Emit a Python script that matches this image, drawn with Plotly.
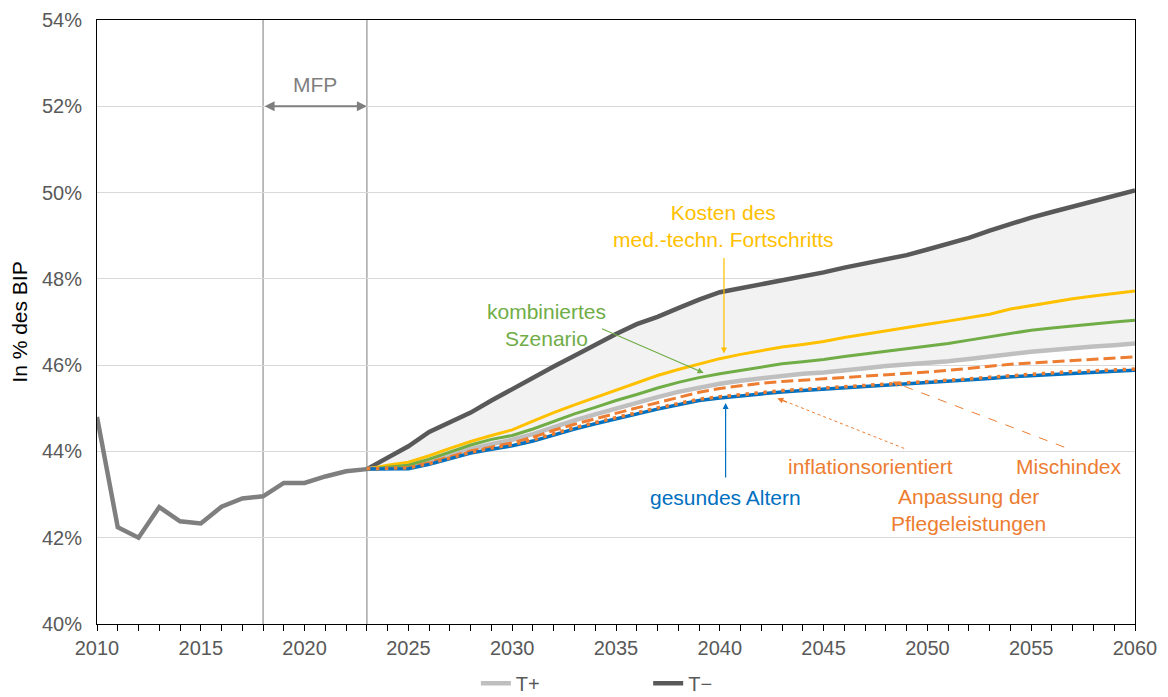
import plotly.graph_objects as go

# ---------------- data ----------------
years_hist = list(range(2010, 2024))
hist = [44.80, 42.24, 42.00, 42.71, 42.38, 42.33, 42.72, 42.91, 42.96, 43.27,
        43.27, 43.42, 43.54, 43.59]

years_proj = list(range(2023, 2061))
t_minus = [43.59, 43.87, 44.12, 44.45, 44.67, 44.90, 45.18, 45.45, 45.72, 45.97,
           46.22, 46.48, 46.72, 46.95, 47.12, 47.32, 47.52, 47.69, 47.78, 47.87,
           47.96, 48.05, 48.15, 48.26, 48.36, 48.47, 48.55, 48.68, 48.82, 48.95,
           49.12, 49.28, 49.42, 49.55, 49.67, 49.80, 49.93, 50.05]
t_plus = [43.59, 43.62, 43.65, 43.78, 43.92, 44.06, 44.17, 44.27, 44.40, 44.57,
          44.72, 44.86, 45.00, 45.13, 45.26, 45.38, 45.48, 45.57, 45.64, 45.70,
          45.76, 45.80, 45.83, 45.87, 45.93, 45.98, 46.01, 46.04, 46.09, 46.14,
          46.20, 46.25, 46.31, 46.35, 46.40, 46.43, 46.46, 46.50]
kosten = [43.59, 43.68, 43.75, 43.90, 44.07, 44.23, 44.37, 44.50, 44.70, 44.90,
          45.08, 45.25, 45.43, 45.60, 45.76, 45.90, 46.03, 46.15, 46.25, 46.34,
          46.42, 46.48, 46.55, 46.64, 46.72, 46.80, 46.88, 46.95, 47.02, 47.10,
          47.18, 47.30, 47.38, 47.46, 47.54, 47.60, 47.66, 47.72]
kombiniert = [43.59, 43.64, 43.68, 43.82, 43.99, 44.15, 44.28, 44.37, 44.52, 44.70,
              44.87, 45.02, 45.18, 45.32, 45.47, 45.60, 45.71, 45.80, 45.88, 45.96,
              46.03, 46.08, 46.13, 46.20, 46.26, 46.32, 46.38, 46.44, 46.50, 46.58,
              46.66, 46.74, 46.81, 46.86, 46.91, 46.96, 47.00, 47.04]
mischindex = [43.59, 43.60, 43.62, 43.74, 43.88, 44.01, 44.10, 44.20, 44.33, 44.49,
              44.63, 44.76, 44.89, 45.01, 45.13, 45.25, 45.37, 45.46, 45.52, 45.58,
              45.62, 45.65, 45.68, 45.71, 45.74, 45.77, 45.81, 45.84, 45.88, 45.93,
              45.98, 46.02, 46.05, 46.08, 46.11, 46.14, 46.16, 46.19]
gesund = [43.59, 43.59, 43.60, 43.70, 43.83, 43.96, 44.05, 44.13, 44.24, 44.39,
          44.52, 44.64, 44.76, 44.88, 44.98, 45.08, 45.18, 45.24, 45.29, 45.34,
          45.38, 45.41, 45.44, 45.46, 45.49, 45.52, 45.55, 45.58, 45.61, 45.65,
          45.69, 45.73, 45.76, 45.79, 45.82, 45.84, 45.86, 45.88]
inflation = [43.60, 43.61, 43.62, 43.72, 43.85, 43.98, 44.08, 44.16, 44.27, 44.42,
             44.55, 44.67, 44.79, 44.91, 45.01, 45.11, 45.21, 45.27, 45.32, 45.37,
             45.41, 45.44, 45.47, 45.49, 45.52, 45.55, 45.58, 45.61, 45.64, 45.68,
             45.72, 45.76, 45.79, 45.82, 45.85, 45.87, 45.89, 45.91]

y_ticks = [40, 42, 44, 46, 48, 50, 52, 54]
y_ticklabels = ["40%", "42%", "44%", "46%", "48%", "50%", "52%", "54%"]
x_ticks = [2010, 2015, 2020, 2025, 2030, 2035, 2040, 2045, 2050, 2055, 2060]

FONT = "Liberation Sans, Arial, sans-serif"
YELLOW = "#ffc000"
GREEN = "#70ad47"
ORANGE = "#ed7d31"
BLUE = "#0070c0"

fig = go.Figure()

# shaded band between T+ and T-
fig.add_trace(go.Scatter(x=years_proj, y=t_plus, mode="lines", line=dict(width=0),
                         showlegend=False, hoverinfo="skip"))
fig.add_trace(go.Scatter(x=years_proj, y=t_minus, mode="lines", line=dict(width=0),
                         fill="tonexty", fillcolor="#f2f2f2",
                         showlegend=False, hoverinfo="skip"))

fig.add_trace(go.Scatter(x=years_hist, y=hist, mode="lines",
                         line=dict(color="#7f7f7f", width=4.5), showlegend=False))
fig.add_trace(go.Scatter(x=years_proj, y=t_minus, mode="lines", name="T\u2212",
                         line=dict(color="#595959", width=4.5), legend="legend2"))
fig.add_trace(go.Scatter(x=years_proj, y=t_plus, mode="lines", name="T+",
                         line=dict(color="#bfbfbf", width=4.5), legend="legend"))
fig.add_trace(go.Scatter(x=years_proj, y=kosten, mode="lines",
                         line=dict(color=YELLOW, width=3), showlegend=False))
fig.add_trace(go.Scatter(x=years_proj, y=kombiniert, mode="lines",
                         line=dict(color=GREEN, width=3), showlegend=False))
fig.add_trace(go.Scatter(x=years_proj, y=mischindex, mode="lines",
                         line=dict(color=ORANGE, width=3, dash="12px,5px"),
                         showlegend=False))
fig.add_trace(go.Scatter(x=years_proj, y=gesund, mode="lines",
                         line=dict(color=BLUE, width=3.5), showlegend=False))
fig.add_trace(go.Scatter(x=years_proj, y=inflation, mode="lines",
                         line=dict(color=ORANGE, width=3.5, dash="3.5px,5.5px"),
                         showlegend=False))

shapes = []
for xv in (2018, 2023):
    shapes.append(dict(type="line", xref="x", yref="paper", x0=xv, x1=xv, y0=0, y1=1,
                       line=dict(color="#a6a6a6", width=1.5), layer="below"))
# dashed / dotted leader lines (orange)
shapes.append(dict(type="line", xref="x", yref="y", x0=2048.88, y0=44.07,
                   x1=2042.95, y1=45.20, line=dict(color=ORANGE, width=1, dash="dot")))
shapes.append(dict(type="line", xref="x", yref="y", x0=2056.59, y0=44.10,
                   x1=2048.5, y1=45.58, line=dict(color=ORANGE, width=1, dash="dash")))

annotations = []


def arrow(x0, y0, x1, y1, color, width=1.2, size=1.0):
    annotations.append(dict(x=x1, y=y1, ax=x0, ay=y0, xref="x", yref="y",
                            axref="x", ayref="y", text="", showarrow=True,
                            arrowhead=2, arrowsize=size, arrowwidth=width,
                            arrowcolor=color))


def label(x, y, text, color):
    annotations.append(dict(x=x, y=y, xref="x", yref="y", text=text, showarrow=False,
                            font=dict(family=FONT, size=21, color=color),
                            align="center", xanchor="center", yanchor="middle"))


# MFP double arrow
annotations.append(dict(x=2023, y=52, ax=2018, ay=52, xref="x", yref="y",
                        axref="x", ayref="y", text="", showarrow=True,
                        arrowhead=2, startarrowhead=2, arrowside="end+start",
                        arrowsize=1, arrowwidth=2, arrowcolor="#7f7f7f"))
label(2020.5, 52.5, "MFP", "#7f7f7f")

arrow(2040.2, 48.52, 2040.2, 46.27, YELLOW, 1.2)
label(2040.2, 49.22, "Kosten des<br>med.-techn. Fortschritts", YELLOW)

arrow(2034.25, 46.86, 2039.22, 45.82, GREEN, 1.2)
label(2031.65, 46.93, "kombiniertes<br>Szenario", GREEN)

arrow(2040.28, 43.36, 2040.28, 45.12, BLUE, 1.2)
label(2040.28, 42.94, "gesundes Altern", BLUE)

# orange arrowheads only (lines drawn as shapes)
arrow(2043.3, 45.13, 2042.77, 45.23, ORANGE, 1.2)
arrow(2048.85, 45.50, 2048.32, 45.62, ORANGE, 1.2)
label(2047.27, 43.64, "inflationsorientiert", ORANGE)
label(2056.82, 43.64, "Mischindex", ORANGE)
label(2052.0, 42.64, "Anpassung der<br>Pflegeleistungen", ORANGE)

# page body adds an 8 px offset, so the figure is 8 px smaller than the window
fig.update_layout(
    width=1160, height=689,
    margin=dict(l=89, r=33, t=12, b=73, autoexpand=False),
    paper_bgcolor="white", plot_bgcolor="white",
    font=dict(family=FONT, size=20, color="#595959"),
    shapes=shapes, annotations=annotations,
    showlegend=True,
    legend=dict(orientation="h", x=0.365, y=-0.098, xanchor="left", yanchor="middle",
                font=dict(family=FONT, size=20, color="#595959"),
                bgcolor="rgba(0,0,0,0)"),
    legend2=dict(orientation="h", x=0.531, y=-0.098, xanchor="left", yanchor="middle",
                 font=dict(family=FONT, size=20, color="#595959"),
                 bgcolor="rgba(0,0,0,0)"),
)

fig.update_xaxes(range=[2010, 2060], tickvals=x_ticks, showgrid=False,
                 showline=True, linecolor="#000000", linewidth=1, mirror=True,
                 ticks="outside", ticklen=6, tickcolor="#000000",
                 minor=dict(dtick=1, tick0=2010, ticks="outside", ticklen=6,
                            tickcolor="#000000"),
                 tickfont=dict(family=FONT, size=20, color="#595959"),
                 zeroline=False, automargin=False)
fig.update_yaxes(range=[40, 54], tickvals=y_ticks, ticktext=y_ticklabels,
                 showgrid=True, gridcolor="#d9d9d9", gridwidth=1,
                 showline=True, linecolor="#000000", linewidth=1, mirror=True,
                 ticks="", ticklabelstandoff=10,
                 tickfont=dict(family=FONT, size=20, color="#595959"),
                 title=dict(text="In % des BIP", standoff=8,
                            font=dict(family=FONT, size=21, color="#000000")),
                 zeroline=False, automargin=False)

fig.write_html("out.html")
